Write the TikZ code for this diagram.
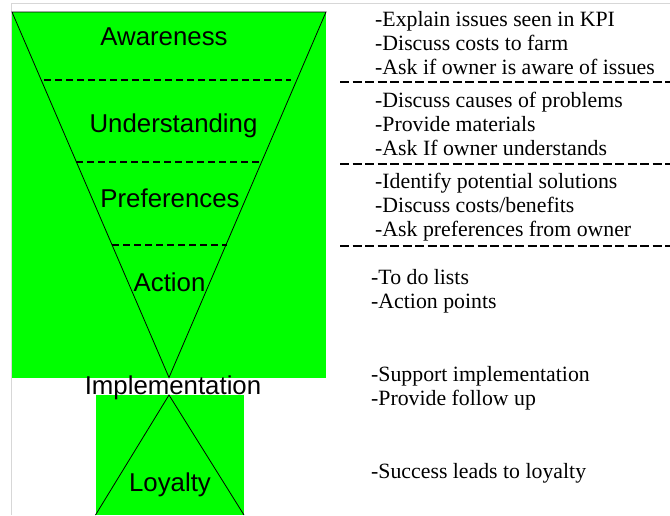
\documentclass[tikz,border=0pt]{standalone}
\usepackage{fontspec}
\setmainfont{Liberation Serif}
\newfontfamily\funnelfont{Liberation Sans}
\definecolor{funnelgreen}{RGB}{0,255,0}
\definecolor{framegray}{RGB}{215,215,215}

\begin{document}
\begin{tikzpicture}[x=1pt,y=-1pt,
  stage/.style={font=\funnelfont\fontsize{25.8}{26}\selectfont, anchor=base, inner sep=0pt},
  note/.style={font=\fontsize{21.8}{24}\selectfont, anchor=base west, inner sep=0pt},
  edge/.style={line width=0.8pt},
  stagesep/.style={line width=2pt, dash pattern=on 7pt off 4pt},
  notesep/.style={line width=2pt, dash pattern=on 9pt off 3.5pt},
  frameline/.style={draw=framegray, line width=0.9pt}]
\useasboundingbox (0,0) rectangle (670,515);

% outer frame
\coordinate (fbl) at (11,515);
\coordinate (ftl) at (11,3);
\coordinate (ftr) at (670,3);
\draw[frameline] (fbl) -- (ftl) -- (ftr);

% green panels
\fill[funnelgreen] (12,12) rectangle (326,378);
\fill[funnelgreen] (95.5,394.5) rectangle (244,515);

% funnel and the inverted cone below it
\coordinate (tl) at (12,12);
\coordinate (tr) at (326,12);
\coordinate (apex) at (169,377.5);
\coordinate (peak) at (169,395);
\coordinate (bl) at (95.5,515);
\coordinate (br) at (244,515);
\draw[edge] (tl) -- (tr) -- (apex) -- cycle;
\draw[edge] (bl) -- (peak) -- (br);

% stage separators inside the funnel
\coordinate (s1a) at (44,80);  \coordinate (s1b) at (291,80);
\coordinate (s2a) at (76,162); \coordinate (s2b) at (261,162);
\coordinate (s3a) at (112,245);\coordinate (s3b) at (227,245);
\draw[stagesep] (s1a) -- (s1b);
\draw[stagesep] (s2a) -- (s2b);
\draw[stagesep] (s3a) -- (s3b);

% separators between the note groups
\coordinate (n1a) at (340,82);  \coordinate (n1b) at (670,82);
\coordinate (n2a) at (340,164); \coordinate (n2b) at (670,164);
\coordinate (n3a) at (340,246); \coordinate (n3b) at (670,246);
\draw[notesep] (n1a) -- (n1b);
\draw[notesep] (n2a) -- (n2b);
\draw[notesep] (n3a) -- (n3b);

% stage names
\node[stage] (aware) at (164,45) {Awareness};
\node[stage] (under) at (173.5,132) {Understanding};
\node[stage] (pref) at (170,207) {Preferences};
\node[stage] (act) at (169.5,291) {Action};
\node[stage] (impl) at (173,394) {Implementation};
\node[stage] (loyal) at (170,491) {Loyalty};

% notes for each stage
\node[note] (a1) at (375,26) {-Explain issues seen in KPI};
\node[note] (a2) at (375,50) {-Discuss costs to farm};
\node[note] (a3) at (375,74) {-Ask if owner is aware of issues};
\node[note] (u1) at (375,107) {-Discuss causes of problems};
\node[note] (u2) at (375,131) {-Provide materials};
\node[note] (u3) at (375,155) {-Ask If owner understands};
\node[note] (p1) at (375,188) {-Identify potential solutions};
\node[note] (p2) at (375,212) {-Discuss costs/benefits};
\node[note] (p3) at (375,236) {-Ask preferences from owner};
\node[note] (c1) at (371,284) {-To do lists};
\node[note] (c2) at (371,308) {-Action points};
\node[note] (i1) at (371,381) {-Support implementation};
\node[note] (i2) at (371,405) {-Provide follow up};
\node[note] (l1) at (371,478) {-Success leads to loyalty};
\end{tikzpicture}
\end{document}
